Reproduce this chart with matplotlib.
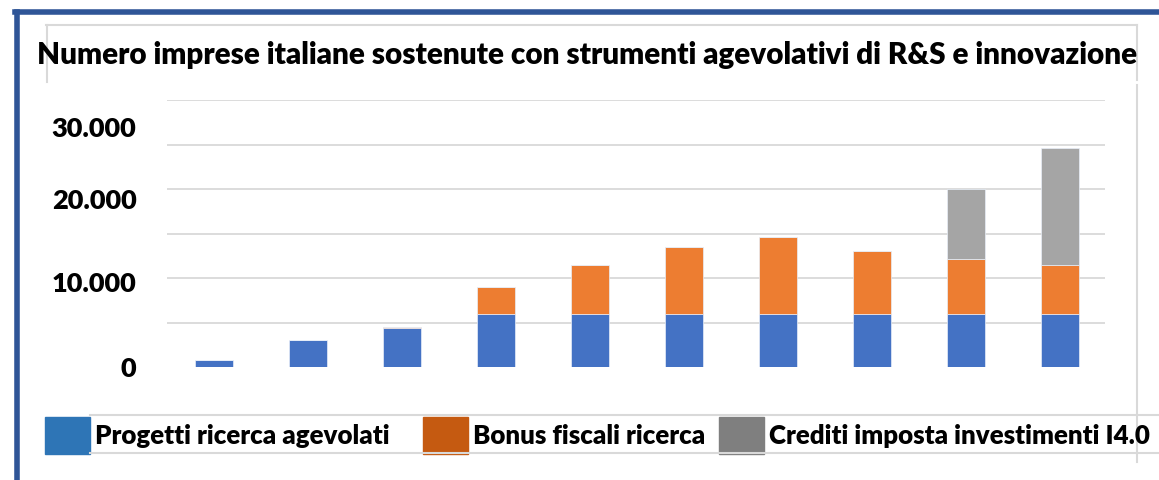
import numpy as np
import matplotlib
matplotlib.use("Agg")
import matplotlib.pyplot as plt
from matplotlib.lines import Line2D
from matplotlib.patches import Rectangle

plt.rcParams['font.family'] = ['Lato', 'DejaVu Sans']
WEIGHT = 800

# data (ten years, no axis labels shown)
progetti = [800, 3000, 4400, 5900, 5900, 5900, 5900, 5900, 5900, 5900]
bonus = [0, 0, 150, 3100, 5600, 7570, 8660, 7120, 6180, 5610]
crediti = [0, 0, 0, 0, 0, 0, 0, 0, 7900, 13100]

series_names = ['Progetti ricerca agevolati', 'Bonus fiscali ricerca',
                'Crediti imposta investimenti I4.0']
bar_colors = ['#4472C4', '#ED7D31', '#A5A5A5']
legend_colors = ['#2E75B6', '#C55A11', '#7F7F7F']

# tick labels as they appear (slightly off the gridlines in the original)
ytick_pos = [0, 9500, 18900, 27000]
ytick_labels = ['0', '10.000', '20.000', '30.000']
grid_steps = list(range(0, 30001, 5000))

W, H = 1159, 480
fig = plt.figure(figsize=(W / 100, H / 100), dpi=100)


def px(x, y):
    return x / W, 1 - y / H


ax = fig.add_axes([167 / W, 1 - 367 / H, (1105 - 167) / W, (367 - 100) / H])

x = np.arange(len(progetti))
bottom = np.zeros(len(progetti))
for vals, col in zip([progetti, bonus, crediti], bar_colors):
    ax.bar(x, vals, width=0.40, bottom=bottom, color=col,
           edgecolor='#E8EEF8', linewidth=0.5, zorder=3)
    bottom += np.array(vals)

ax.set_xlim(-0.5, 9.48)
ax.set_ylim(0, 30000)
ax.set_yticks(grid_steps, minor=True)
ax.grid(which='minor', axis='y', color='#D9D9D9', linewidth=1.3, zorder=0)
ax.set_yticks(ytick_pos, ytick_labels)
ax.tick_params(axis='y', which='both', length=0, pad=22, labelsize=19.5)
for lab in ax.get_yticklabels():
    lab.set_fontweight(WEIGHT)
ax.set_xticks([])
for s in ax.spines.values():
    s.set_visible(False)

fig.text(*px(37, 55), 'Numero imprese italiane sostenute con strumenti agevolativi di R&S e innovazione',
         fontsize=21.3, fontweight=WEIGHT, ha='left', va='center')

# frame decorations
blue_frame = '#2F5597'
grey_frame = '#D9D9D9'
fig.add_artist(Line2D(*zip(px(17, 12), px(17, 480)), color=blue_frame, lw=4, transform=fig.transFigure))
fig.add_artist(Line2D(*zip(px(15, 12), px(1159, 12)), color=blue_frame, lw=4, transform=fig.transFigure))
fig.add_artist(Line2D(*zip(px(46, 25), px(1137, 25)), color=grey_frame, lw=1.5, transform=fig.transFigure))
fig.add_artist(Line2D(*zip(px(47, 25), px(47, 82)), color=grey_frame, lw=1.5, transform=fig.transFigure))
fig.add_artist(Line2D(*zip(px(1137, 25), px(1137, 80)), color=grey_frame, lw=1.5, transform=fig.transFigure))
fig.add_artist(Line2D(*zip(px(1137, 85), px(1137, 462)), color=grey_frame, lw=1.5, transform=fig.transFigure))
fig.add_artist(Line2D(*zip(px(90, 415), px(1159, 415)), color=grey_frame, lw=1.5, transform=fig.transFigure))
fig.add_artist(Line2D(*zip(px(90, 453), px(1159, 453)), color=grey_frame, lw=1.5, transform=fig.transFigure))

# legend
legend_x = [45, 423, 719]
for lx, name, col in zip(legend_x, series_names, legend_colors):
    x0, y0 = px(lx, 454)
    fig.add_artist(Rectangle((x0, y0), 45 / W, 37 / H, color=col,
                             transform=fig.transFigure))
    fig.text(*px(lx + 50, 436), name, fontsize=18.6, fontweight=WEIGHT,
             ha='left', va='center')

fig.savefig('out.png', dpi=100)
